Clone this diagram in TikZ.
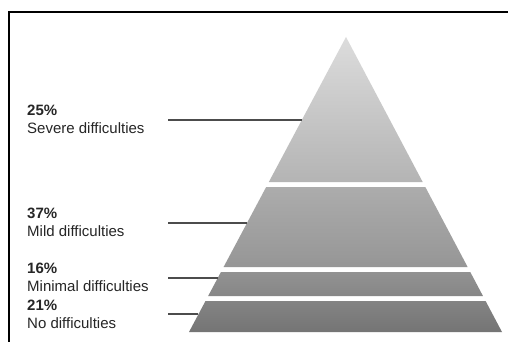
\documentclass[tikz,border=0pt]{standalone}
\usepackage{fontspec}
\setmainfont{Liberation Sans}
\begin{document}
\begin{tikzpicture}[x=1pt,y=-1pt,
  lbl/.style={anchor=base west,inner sep=0pt,text=black!85,font=\fontsize{15}{17}\selectfont},
  pct/.style={lbl,font=\fontsize{15}{17}\selectfont\bfseries},
  leader/.style={draw=black!70,line width=1.7pt},
  tier/.style={draw=none}]
\useasboundingbox (0,0) rectangle (508,342);
\fill[white] (0,0) rectangle (508,342);
\draw[line width=2pt] (9,350) -- (9,12) -- (520,12);
% pyramid geometry: apex (346,37), base y=332 from x=189 to 502
\shade[tier,top color={rgb,255:red,220;green,220;blue,220},bottom color={rgb,255:red,180;green,180;blue,180}]
  (346,37) -- ({346+0.5288*(182-37)},182) -- ({346-0.5322*(182-37)},182) -- cycle;
\shade[tier,top color={rgb,255:red,172;green,172;blue,172},bottom color={rgb,255:red,150;green,150;blue,150}]
  ({346-0.5322*(187-37)},187) -- ({346+0.5288*(187-37)},187) -- ({346+0.5288*(267-37)},267) -- ({346-0.5322*(267-37)},267) -- cycle;
\shade[tier,top color={rgb,255:red,146;green,146;blue,146},bottom color={rgb,255:red,134;green,134;blue,134}]
  ({346-0.5322*(272-37)},272) -- ({346+0.5288*(272-37)},272) -- ({346+0.5288*(296-37)},296) -- ({346-0.5322*(296-37)},296) -- cycle;
\shade[tier,top color={rgb,255:red,132;green,132;blue,132},bottom color={rgb,255:red,116;green,116;blue,116}]
  ({346-0.5322*(301-37)},301) -- ({346+0.5288*(301-37)},301) -- ({346+0.5288*(332-37)},332) -- ({346-0.5322*(332-37)},332) -- cycle;
% labels
\node[pct] (p1) at (27,115) {25\%};
\node[lbl] (t1) at (27,133) {Severe difficulties};
\node[pct] (p2) at (27,218.3) {37\%};
\node[lbl] (t2) at (27,236) {Mild difficulties};
\node[pct] (p3) at (27,273.3) {16\%};
\node[lbl] (t3) at (27,291) {Minimal difficulties};
\node[pct] (p4) at (27,310) {21\%};
\node[lbl] (t4) at (27,328.3) {No difficulties};
% leader lines
\coordinate (s1) at (168,120.3);
\coordinate (e1) at ({346-0.5322*(120.3-37)},120.3);
\coordinate (s2) at (168,222.7);
\coordinate (e2) at ({346-0.5322*(222.7-37)},222.7);
\coordinate (s3) at (168,277.7);
\coordinate (e3) at ({346-0.5322*(277.7-37)},277.7);
\coordinate (s4) at (168,314.3);
\coordinate (e4) at ({346-0.5322*(314.3-37)},314.3);
\draw[leader] (s1) -- (e1);
\draw[leader] (s2) -- (e2);
\draw[leader] (s3) -- (e3);
\draw[leader] (s4) -- (e4);
\end{tikzpicture}
\end{document}
